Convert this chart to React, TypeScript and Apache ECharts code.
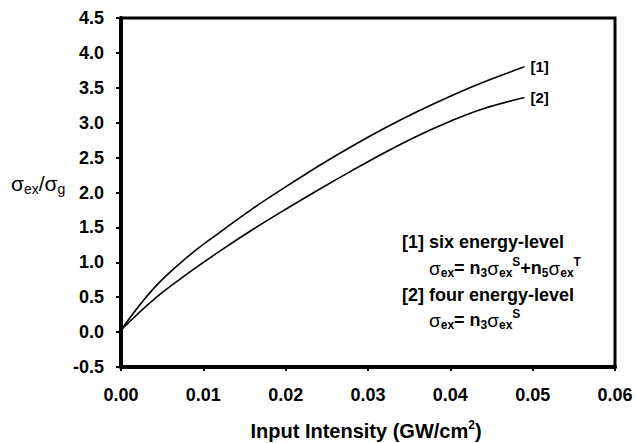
import React, { useEffect, useRef } from "react";
import * as echarts from "echarts";

const xValues = [0, 0.004, 0.008, 0.012, 0.016, 0.02, 0.024, 0.028, 0.032, 0.036, 0.04, 0.044, 0.049];
const sixLevel = [0.03, 0.63, 1.07, 1.43, 1.77, 2.08, 2.38, 2.66, 2.92, 3.16, 3.38, 3.58, 3.8];
const fourLevel = [0.03, 0.47, 0.83, 1.16, 1.47, 1.76, 2.04, 2.31, 2.57, 2.81, 3.02, 3.2, 3.36];
const seriesLabels = ["[1]", "[2]"];

const FONT = "'Liberation Sans', Arial, sans-serif";

const richStyles = {
  b: { fontFamily: FONT, fontWeight: "bold", fontSize: 18, color: "#000" },
  s: { fontFamily: FONT, fontWeight: "normal", fontSize: 19, color: "#000" },
  sub: { fontFamily: FONT, fontWeight: "bold", fontSize: 12, color: "#000", padding: [10, 0, 0, 0] },
  sup: { fontFamily: FONT, fontWeight: "bold", fontSize: 12, color: "#000", padding: [0, 0, 12, 0] },
  ys: { fontFamily: FONT, fontWeight: "normal", fontSize: 21, color: "#000" },
  ysub: { fontFamily: FONT, fontWeight: "normal", fontSize: 14, color: "#000", padding: [11, 0, 0, 0] },
  t: { fontFamily: FONT, fontWeight: "bold", fontSize: 20, color: "#000" },
  tsup: { fontFamily: FONT, fontWeight: "bold", fontSize: 12, color: "#000", padding: [0, 0, 12, 0] },
};

export default function App() {
  const ref = useRef<HTMLDivElement>(null);
  useEffect(() => {
    if (!ref.current) return;
    const chart = echarts.init(ref.current, null, { renderer: "svg" });
    const mk = (vals: number[]) => xValues.map((x, i) => [x, vals[i]]);
    const endLabel = (text: string) => ({
      show: true,
      formatter: text,
      distance: 6,
      color: "#000",
      fontFamily: FONT,
      fontWeight: "bold",
      fontSize: 15,
    });
    chart.setOption({
      animation: false,
      backgroundColor: "#fff",
      grid: {
        left: 121,
        right: 21,
        top: 18,
        bottom: 76,
        show: true,
        borderColor: "#000",
        borderWidth: 3,
        backgroundColor: "transparent",
      },
      xAxis: {
        type: "value",
        min: 0,
        max: 0.06,
        interval: 0.01,
        splitLine: { show: false },
        axisLine: { onZero: false, lineStyle: { color: "#000", width: 4 } },
        axisTick: { show: true, inside: false, length: 4, lineStyle: { color: "#000", width: 2 } },
        axisLabel: {
          margin: 19,
          color: "#000",
          fontFamily: FONT,
          fontWeight: "bold",
          fontSize: 18,
          formatter: (v: number) => v.toFixed(2),
        },
      },
      yAxis: {
        type: "value",
        min: -0.5,
        max: 4.5,
        interval: 0.5,
        splitLine: { show: false },
        axisLine: { onZero: false, lineStyle: { color: "#000", width: 4 } },
        axisTick: { show: true, inside: false, length: 5, lineStyle: { color: "#000", width: 2 } },
        axisLabel: {
          margin: 17,
          color: "#000",
          fontFamily: FONT,
          fontWeight: "bold",
          fontSize: 18,
          formatter: (v: number) => v.toFixed(1),
        },
      },
      series: [
        {
          type: "line",
          data: mk(sixLevel),
          smooth: 0.4,
          symbol: "none",
          lineStyle: { color: "#000", width: 1.6 },
          endLabel: endLabel(seriesLabels[0]),
        },
        {
          type: "line",
          data: mk(fourLevel),
          smooth: 0.4,
          symbol: "none",
          lineStyle: { color: "#000", width: 1.6 },
          endLabel: endLabel(seriesLabels[1]),
        },
      ],
      graphic: [
        {
          type: "text",
          x: 11,
          y: 183,
          style: {
            text: "{ys|σ}{ysub|ex}{ys|/σ}{ysub|g}",
            rich: richStyles,
            verticalAlign: "middle",
          },
        },
        {
          type: "text",
          x: 366,
          y: 431,
          style: {
            text: "{t|Input Intensity (GW/cm}{tsup|2}{t|)}",
            rich: richStyles,
            align: "center",
            verticalAlign: "middle",
          },
        },
        {
          type: "text",
          x: 402,
          y: 242,
          style: { text: "{b|[1] six energy-level}", rich: richStyles, verticalAlign: "middle" },
        },
        {
          type: "text",
          x: 429,
          y: 268,
          style: {
            text: "{s|σ}{sub|ex}{b|= n}{sub|3}{s|σ}{sub|ex}{sup|S}{b|+n}{sub|5}{s|σ}{sub|ex}{sup|T}",
            rich: richStyles,
            verticalAlign: "middle",
          },
        },
        {
          type: "text",
          x: 402,
          y: 295,
          style: { text: "{b|[2] four energy-level}", rich: richStyles, verticalAlign: "middle" },
        },
        {
          type: "text",
          x: 429,
          y: 320,
          style: {
            text: "{s|σ}{sub|ex}{b|= n}{sub|3}{s|σ}{sub|ex}{sup|S}",
            rich: richStyles,
            verticalAlign: "middle",
          },
        },
      ],
    });
    return () => chart.dispose();
  }, []);
  return <div ref={ref} style={{ width: 636, height: 443, position: "absolute", left: 0, top: 0 }} />;
}
